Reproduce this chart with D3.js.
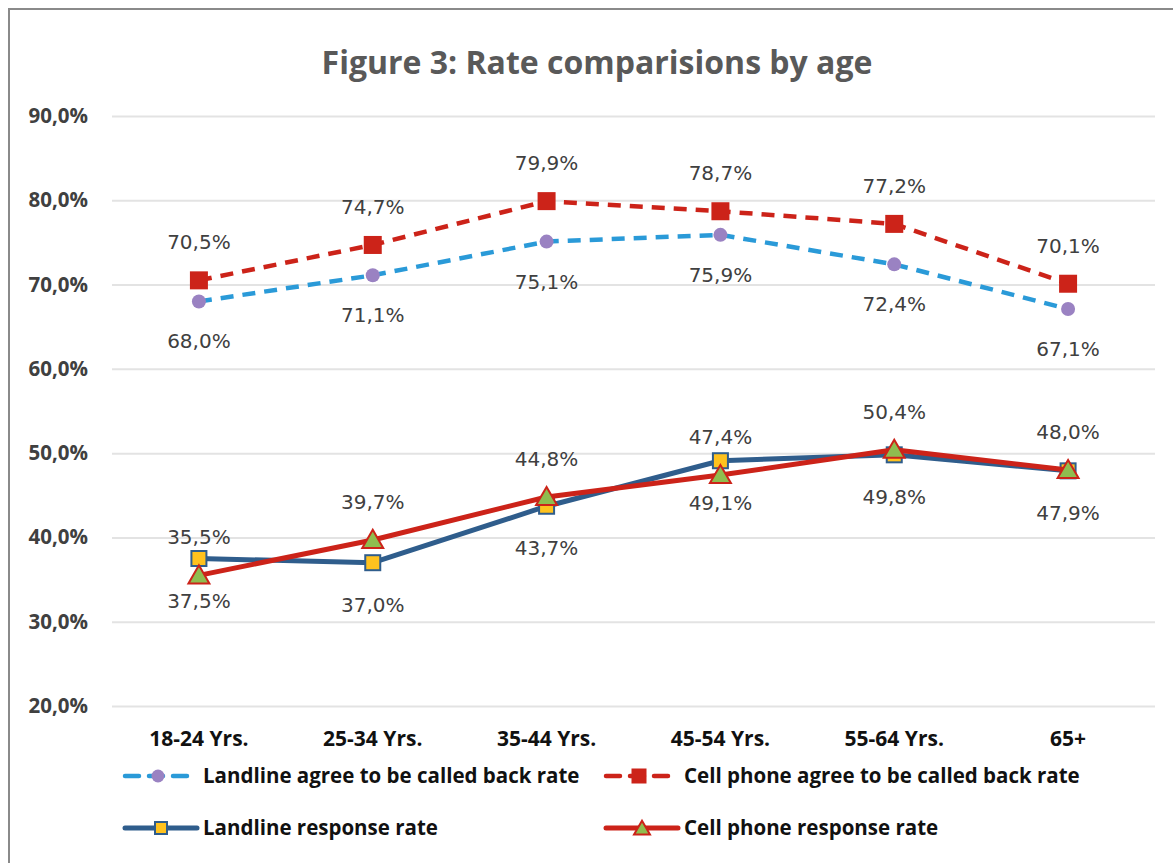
<!DOCTYPE html>
<html>
<head>
<meta charset="utf-8">
<script src="https://cdn.jsdelivr.net/npm/d3@7"></script>
<style>
  body { margin: 0; background: #fff; }
  svg { display: block; }
</style>
</head>
<body>
<svg id="chart" width="1173" height="863"></svg>
<script>
const AGES = ["18-24 Yrs.", "25-34 Yrs.", "35-44 Yrs.", "45-54 Yrs.", "55-64 Yrs.", "65+"];
const LANDLINE_AGREE = [68.0, 71.1, 75.1, 75.9, 72.4, 67.1];
const CELL_AGREE = [70.5, 74.7, 79.9, 78.7, 77.2, 70.1];
const LANDLINE_RESP = [37.5, 37.0, 43.7, 49.1, 49.8, 47.9];
const CELL_RESP = [35.5, 39.7, 44.8, 47.4, 50.4, 48.0];
const Y_TICKS = [20, 30, 40, 50, 60, 70, 80, 90];

const svg = d3.select("#chart");
const W = 1173, H = 863;
const margin = { left: 112, right: 18, top: 116, bottom: 157 };
const FONT = "'Open Sans', Lato, sans-serif";

// frame round the whole chart
svg.append("rect")
  .attr("x", 9).attr("y", 9)
  .attr("width", W + 20).attr("height", H + 20)
  .attr("fill", "none").attr("stroke", "#8a8a8a").attr("stroke-width", 2);

svg.append("text")
  .attr("x", 597).attr("y", 74)
  .attr("text-anchor", "middle")
  .style("font-family", FONT)
  .style("font-weight", "bold")
  .style("font-size", "32px")
  .attr("fill", "#595959")
  .text("Figure 3: Rate comparisions by age");

const x = d3.scaleBand().domain(AGES).range([margin.left, W - margin.right]);
const y = d3.scaleLinear().domain([20, 90]).range([H - margin.bottom, margin.top]);
const cx = (d) => x(d) + x.bandwidth() / 2;

// gridlines + y labels
const yAxis = d3.axisLeft(y)
  .tickValues(Y_TICKS)
  .tickSize(-(W - margin.left - margin.right))
  .tickPadding(24)
  .tickFormat((d) => d3.format(".1f")(d).replace(".", ",") + "%");

const gy = svg.append("g").attr("transform", `translate(${margin.left},0)`).call(yAxis);
gy.select(".domain").remove();
gy.selectAll("line").attr("stroke", "#e3e3e3").attr("stroke-width", 2);
gy.selectAll("text")
  .style("font-family", FONT)
  .style("font-weight", "bold")
  .style("font-size", "20.5px")
  .attr("fill", "#404040");

// x labels
const xAxis = d3.axisBottom(x).tickSize(0).tickPadding(15);
const gx = svg.append("g").attr("transform", `translate(0,${H - margin.bottom + 10})`).call(xAxis);
gx.select(".domain").remove();
gx.selectAll("text")
  .style("font-family", FONT)
  .style("font-weight", "bold")
  .style("font-size", "21px")
  .attr("fill", "#111");

const SERIES = [
  { name: "Landline agree to be called back rate", values: LANDLINE_AGREE, color: "#2a9ad8", dash: "13,9", width: 4.5, marker: "circle", fill: "#9a82c2", stroke: "#9a82c2", labelDy: 47 },
  { name: "Cell phone agree to be called back rate", values: CELL_AGREE, color: "#cc2319", dash: "13,9", width: 4.5, marker: "square", fill: "#cc2319", stroke: "#cc2319", labelDy: -31 },
  { name: "Landline response rate", values: LANDLINE_RESP, color: "#2f5d8c", dash: null, width: 5, marker: "square", fill: "#ffc21e", stroke: "#2f5d8c", labelDy: 49 },
  { name: "Cell phone response rate", values: CELL_RESP, color: "#cc2319", dash: null, width: 5, marker: "triangle", fill: "#8fbd4f", stroke: "#cc2319", labelDy: -31 },
];

const line = d3.line().x((d, i) => cx(AGES[i])).y((d) => y(d));

function drawMarker(g, s, px, py, big) {
  if (s.marker === "circle") {
    g.append("circle").attr("cx", px).attr("cy", py).attr("r", big ? 7 : 6.5)
      .attr("fill", s.fill);
  } else if (s.marker === "square") {
    const solid = s.fill === s.stroke;
    const size = (solid ? 18 : 15) - (big ? 0 : 3);
    g.append("rect").attr("x", px - size / 2).attr("y", py - size / 2)
      .attr("width", size).attr("height", size)
      .attr("fill", s.fill).attr("stroke", s.stroke).attr("stroke-width", solid ? 0 : 2);
  } else {
    const sym = d3.symbol().type(d3.symbolTriangle).size(big ? 190 : 110);
    g.append("path").attr("d", sym()).attr("transform", `translate(${px},${py + 2})`)
      .attr("fill", s.fill).attr("stroke", s.stroke).attr("stroke-width", 2);
  }
}

// draw series: each line then its markers
SERIES.forEach((s) => {
  const g = svg.append("g");
  g.append("path").datum(s.values)
    .attr("d", line)
    .attr("fill", "none")
    .attr("stroke", s.color)
    .attr("stroke-width", s.width)
    .attr("stroke-dasharray", s.dash)
    .attr("stroke-linejoin", "round");
  s.values.forEach((v, i) => drawMarker(g, s, cx(AGES[i]), y(v), true));
});

// data labels
SERIES.forEach((s) => {
  svg.append("g").selectAll("text").data(s.values).join("text")
    .attr("x", (d, i) => cx(AGES[i]))
    .attr("y", (d) => y(d) + s.labelDy)
    .attr("text-anchor", "middle")
    .style("font-family", "'DejaVu Sans', Verdana, sans-serif")
    .style("font-size", "20px")
    .attr("fill", "#404040")
    .text((d) => d3.format(".1f")(d).replace(".", ",") + "%");
});

// legend
const LEGEND_POS = [[125, 776], [606, 776], [125, 828], [606, 828]];
SERIES.forEach((s, i) => {
  const [lx, ly] = LEGEND_POS[i];
  const g = svg.append("g");
  g.append("line").attr("x1", lx).attr("x2", lx + (s.dash ? 66 : 72))
    .attr("y1", ly).attr("y2", ly)
    .attr("stroke", s.color).attr("stroke-width", s.width)
    .attr("stroke-dasharray", s.dash ? "14,10" : null)
    .attr("stroke-linecap", "round");
  drawMarker(g, s, lx + (s.dash ? 33 : 36), ly, false);
  g.append("text").attr("x", lx + 78).attr("y", ly + 7)
    .style("font-family", FONT)
    .style("font-weight", "bold")
    .style("font-size", "20.5px")
    .attr("fill", "#111")
    .text(s.name);
});
</script>
</body>
</html>
